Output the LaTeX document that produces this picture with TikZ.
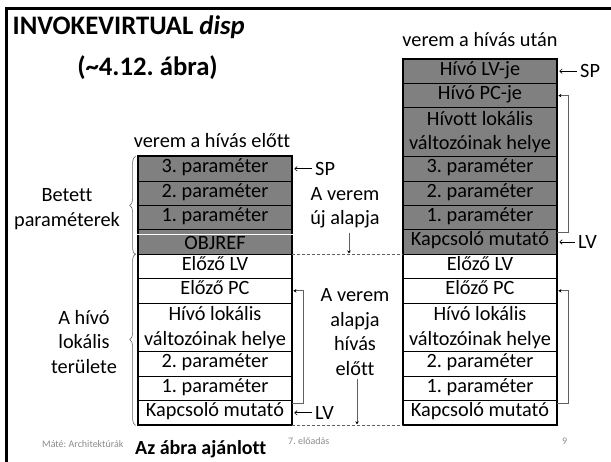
\documentclass[tikz,border=0pt]{standalone}
\usepackage{fontspec}
\setmainfont{Carlito}[Ligatures={NoCommon}]
\usetikzlibrary{arrows.meta,decorations.pathreplacing,calc}
\frenchspacing

\definecolor{cellgray}{RGB}{128,128,128}
\definecolor{guide}{RGB}{96,96,96}
\definecolor{foot}{RGB}{140,140,140}

\begin{document}
\begin{tikzpicture}[x=1pt,y=-1pt,
  txt/.style={font=\fontsize{20.3}{24.4}\selectfont},
  cell/.style={txt,draw=black,line width=0.8pt,minimum width=154pt,
    minimum height=24.4pt,inner sep=0pt,text height=13pt,text depth=5pt},
  dark/.style={fill=cellgray},
  tallcell/.style={txt,draw=black,line width=0.8pt,minimum width=154pt,
    minimum height=48.8pt,inner sep=0pt,align=center},
  lbl/.style={txt,inner sep=0pt},
  ptr/.style={draw=black,line width=0.6pt,-{To[length=3pt,width=5pt]}},
  link/.style={draw=guide,line width=0.8pt,-{Stealth[length=3pt,width=3.5pt,black]}},
  base/.style={draw=guide,dash pattern=on 3pt off 2pt,line width=0.8pt},
  curly/.style={draw=guide,line width=0.6pt,decorate,decoration={brace,amplitude=6pt}},
  frame/.style={draw=black,line width=3pt},
  outer/.style={draw=black,line width=2pt}]
\useasboundingbox (0,0) rectangle (611,462);

% slide frame
\draw[frame] (6.5,462) -- (6.5,8.5) -- (611,8.5);

% headings
\node[anchor=base west,inner sep=0pt,font=\fontsize{26.7}{32}\selectfont\bfseries] (title) at (12.5,35) {INVOKEVIRTUAL \textit{disp}};
\node[anchor=base,inner sep=0pt,font=\fontsize{26.7}{32}\selectfont\bfseries] (fig) at (147.5,76) {(\textasciitilde 4.12. ábra)};
\node[lbl,anchor=base] (before) at (212,148) {verem a hívás előtt};
\node[lbl,anchor=base] (after) at (480,47) {verem a hívás után};

% stack before the call
\node[cell,dark] (L1) at (215,168.8) {3. paraméter};
\node[cell,dark] (L2) at (215,193.2) {2. paraméter};
\node[cell,dark] (L3) at (215,217.6) {1. paraméter};
\node[cell,dark,text height=19.5pt,text depth=4pt] (L4) at (215,242.0) {OBJREF};
\node[cell] (L5) at (215,266.4) {Előző LV};
\node[cell] (L6) at (215,290.8) {Előző PC};
\node[tallcell] (L7) at (215,327.4) {Hívó lokális\\változóinak helye};
\node[cell] (L8) at (215,364.0) {2. paraméter};
\node[cell] (L9) at (215,388.4) {1. paraméter};
\node[cell] (L10) at (215,412.8) {Kapcsoló mutató};
\draw[outer] (L1.north west) rectangle (L10.south east);
\draw[white,line width=1pt] ($(L4.west)+(-2,-7.5)$) -- ($(L4.east)+(1,-7.5)$);

% stack after the call
\node[cell,dark] (R1) at (480,71.2) {Hívó LV-je};
\node[cell,dark] (R2) at (480,95.6) {Hívó PC-je};
\node[tallcell,dark] (R3) at (480,132.2) {Hívott lokális\\változóinak helye};
\node[cell,dark] (R4) at (480,168.8) {3. paraméter};
\node[cell,dark] (R5) at (480,193.2) {2. paraméter};
\node[cell,dark] (R6) at (480,217.6) {1. paraméter};
\node[cell,dark] (R7) at (480,242.0) {Kapcsoló mutató};
\node[cell] (R8) at (480,266.4) {Előző LV};
\node[cell] (R9) at (480,290.8) {Előző PC};
\node[tallcell] (R10) at (480,327.4) {Hívó lokális\\változóinak helye};
\node[cell] (R11) at (480,364.0) {2. paraméter};
\node[cell] (R12) at (480,388.4) {1. paraméter};
\node[cell] (R13) at (480,412.8) {Kapcsoló mutató};
\draw[outer] (R1.north west) rectangle (R13.south east);

% braces and group labels
\draw[curly] ($(L4.south west)+(-2,0)$) -- ($(L1.north west)+(-2,0)$);
\draw[curly] ($(L10.south west)+(-2,0)$) -- ($(L5.north west)+(-2,0)$);
\node[lbl,align=center] (pushed) at (67,209) {Betett\\paraméterek};
\node[lbl,align=center] (callerarea) at (84,342) {A hívó\\lokális\\területe};

% stack pointer and local frame labels
\node[lbl,anchor=west] (spL) at (315,168.8) {SP};
\draw[ptr] ($(spL.west)+(-3,0)$) -- ($(L1.east)+(2,0)$);
\node[lbl,anchor=west] (lvL) at (315,412.8) {LV};
\draw[ptr] ($(lvL.west)+(-3,0)$) -- ($(L10.east)+(2,0)$);
\node[lbl,anchor=west] (spR) at (580,71.2) {SP};
\draw[ptr] ($(spR.west)+(-3,0)$) -- ($(R1.east)+(2,0)$);
\node[lbl,anchor=west] (lvR) at (578,242.0) {LV};
\draw[ptr] ($(lvR.west)+(-3,0)$) -- ($(R7.east)+(2,0)$);

% link pointers back to the saved values
\draw[link] ($(L10.north east)+(0,3)$) -- ++(11,0) |- ($(L6.east)+(1,0)$);
\draw[link] ($(R7.north east)+(0,3)$) -- ++(11,0) |- ($(R2.east)+(1,0)$);
\draw[link] ($(R13.north east)+(0,3)$) -- ++(11,0) |- ($(R9.east)+(1,0)$);

% stack base markers
\draw[base] (L4.south east) -- (R7.south west);
\draw[base] (L10.south east) -- (R13.south west);
\node[lbl,align=center] (newbase) at (345,208) {A verem\\új alapja};
\coordinate (newtip) at (349,253.5);
\draw[link] ($(newbase.south -| newtip)+(0,4)$) -- (newtip);
\node[lbl,align=center] (oldbase) at (355,332) {A verem\\alapja\\hívás\\előtt};
\coordinate (oldtip) at (357,424.3);
\draw[link] ($(oldbase.south -| oldtip)+(0,4)$) -- (oldtip);

% footer
\node[anchor=base west,inner sep=0pt,font=\fontsize{10}{12}\selectfont,text=foot] (author) at (42,448) {Máté: Architektúrák};
\node[anchor=base west,inner sep=0pt,font=\fontsize{20}{24}\selectfont\bfseries] (advice) at (135,454) {Az ábra ajánlott};
\node[anchor=base west,inner sep=0pt,font=\fontsize{10}{12}\selectfont,text=foot] (lecture) at (288,445) {7. előadás};
\node[anchor=base west,inner sep=0pt,font=\fontsize{10}{12}\selectfont,text=foot] (page) at (562,445) {9};
\end{tikzpicture}
\end{document}
